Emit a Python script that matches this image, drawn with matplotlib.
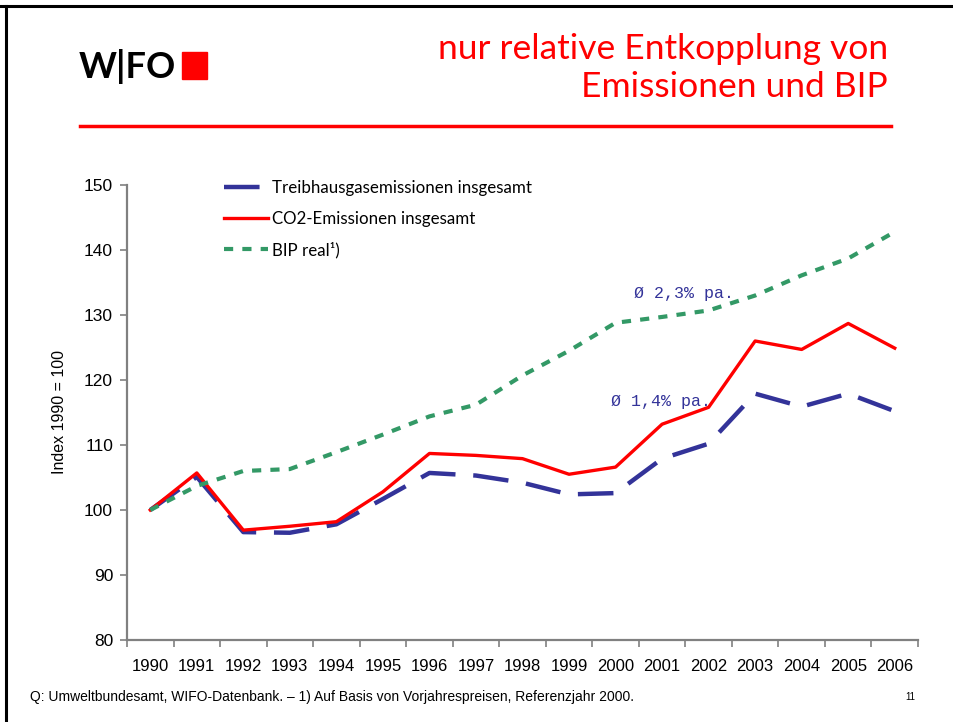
import matplotlib.pyplot as plt
from matplotlib.lines import Line2D
from matplotlib.patches import Rectangle

years = [str(y) for y in range(1990, 2007)]
thg = [100.0, 105.1, 96.6, 96.5, 97.8, 101.7, 105.7, 105.3, 104.2, 102.4, 102.6,
       107.9, 110.2, 117.9, 115.9, 117.9, 115.2]
co2 = [100.0, 105.7, 96.9, 97.5, 98.2, 102.8, 108.7, 108.4, 107.9, 105.5, 106.6,
       113.2, 115.8, 126.0, 124.7, 128.7, 124.9]
bip = [100.0, 103.7, 106.0, 106.3, 108.9, 111.6, 114.4, 116.2, 120.7, 124.5, 128.8,
       129.7, 130.7, 133.0, 136.1, 138.7, 142.8]
labels = ['Treibhausgasemissionen insgesamt', 'CO2-Emissionen insgesamt', 'BIP real¹)']
notes = ['Ø 2,3% pa.', 'Ø 1,4% pa.']

blue = '#333399'
red = '#ff0000'
green = '#339966'
gray = '#808080'
narrow = ['Liberation Sans', 'DejaVu Sans']
gothic = ['Lato', 'DejaVu Sans']

fig = plt.figure(figsize=(9.54, 7.22), dpi=100)
W, H = 954, 722

# slide frame, logo, title
fig.add_artist(Line2D([0, 1], [1 - 6 / H] * 2, color='black', lw=2.2))
fig.add_artist(Line2D([6 / W] * 2, [0, 1 - 6 / H], color='black', lw=2.2))
fig.text(79 / W, 1 - 66 / H, 'W|FO', fontsize=26, fontweight='bold', family=gothic,
         va='center', ha='left')
fig.add_artist(Rectangle((182 / W, 1 - 79 / H), 25 / W, 27 / H, color=red,
                         transform=fig.transFigure))
fig.text(888 / W, 1 - 68 / H, 'nur relative Entkopplung von\nEmissionen und BIP',
         color=red, fontsize=25.5, family=gothic, ha='right', va='center',
         linespacing=1.25)
fig.add_artist(Line2D([80 / W, 891 / W], [1 - 126 / H] * 2, color=red, lw=2.5))

ax = fig.add_axes([127 / W, 82 / H, (918 - 127) / W, (640 - 185) / H])
x = list(range(len(years)))
ax.plot(x, thg, color=blue, lw=3.2, dashes=(8, 4), label=labels[0])
ax.plot(x, co2, color=red, lw=2.4, label=labels[1])
ax.plot(x, bip, color=green, lw=3.0, dashes=(2.2, 2.2), label=labels[2])

ax.set_xlim(-0.5, len(years) - 0.5)
ax.set_ylim(80, 150)
ax.set_yticks(range(80, 151, 10))
ax.set_xticks([i - 0.5 for i in range(len(years) + 1)])
ax.set_xticklabels([])
ax.set_xticks(x, minor=True)
ax.set_xticklabels(years, minor=True, fontsize=12, family=narrow)
ax.tick_params(axis='x', which='minor', length=0, pad=14)
ax.tick_params(axis='x', which='major', length=5, color=gray, width=1.2)
ax.tick_params(axis='y', length=5, color=gray, width=1.2, labelsize=12.5, pad=5)
for t in ax.get_yticklabels():
    t.set_family(narrow)
for s in ['top', 'right']:
    ax.spines[s].set_visible(False)
for s in ['left', 'bottom']:
    ax.spines[s].set_color(gray)
    ax.spines[s].set_linewidth(1.6)
ax.set_ylabel('Index 1990 = 100', fontsize=11.5, family=narrow, labelpad=12)

ax.text(10.4, 132.6, notes[0], family='Liberation Mono', fontsize=12, color=blue)
ax.text(9.9, 116.0, notes[1], family='Liberation Mono', fontsize=12, color=blue)

ax.legend(loc='upper left', bbox_to_anchor=(0.103, 1.045), frameon=False,
          prop={'family': gothic, 'size': 12.2}, handlelength=2.6,
          handletextpad=0.25, labelspacing=0.88)

fig.text(30 / W, 1 - 697 / H,
         'Q: Umweltbundesamt, WIFO-Datenbank. – 1) Auf Basis von Vorjahrespreisen, Referenzjahr 2000.',
         fontsize=10, family=narrow, va='center')
fig.text(905 / W, 1 - 697 / H, '11', fontsize=7, family=narrow, va='center')

fig.savefig('out.png', dpi=100)
